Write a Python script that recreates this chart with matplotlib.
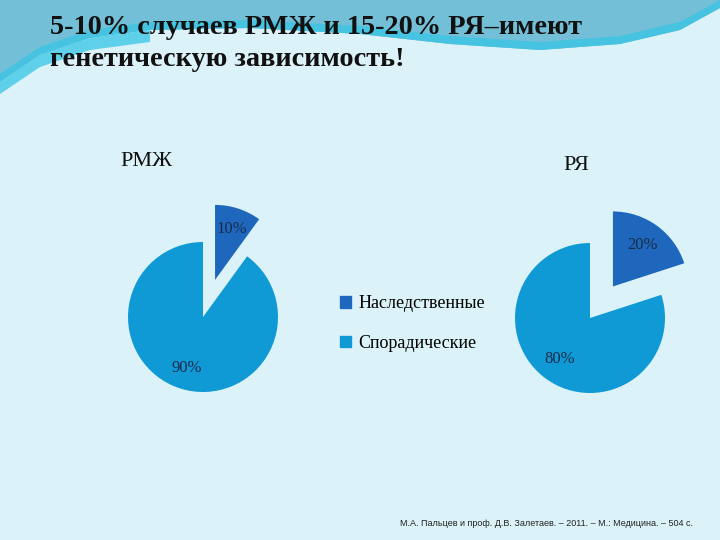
import numpy as np
import matplotlib.pyplot as plt
from matplotlib.patches import Polygon

# data
groups = ["РМЖ", "РЯ"]
categories = ["Наследственные", "Спорадические"]
rmzh_values = [10, 90]
rya_values = [20, 80]
colors = ["#1f67bd", "#0f9ad6"]

title = "5-10% случаев РМЖ и 15-20% РЯ–имеют\nгенетическую зависимость!"
source = "М.А. Пальцев и проф. Д.В. Залетаев. – 2011. – М.: Медицина. – 504 с."

bg = "#dbf3f8"
serif = ["Liberation Serif", "DejaVu Serif"]

fig = plt.figure(figsize=(7.2, 5.4), dpi=100)
fig.patch.set_facecolor(bg)

# background decoration (pixel coords)
deco = fig.add_axes([0, 0, 1, 1])
deco.set_xlim(0, 720)
deco.set_ylim(540, 0)
deco.axis("off")
xs = np.array([0, 40, 90, 150, 250, 360, 450, 540, 620, 680, 720])
edge = np.array([82, 55, 38, 30, 28, 34, 44, 50, 44, 30, 8])
deco.add_patch(Polygon(np.column_stack([np.r_[xs, 720, 0], np.r_[edge, 0, 0]]),
                       closed=True, facecolor="#74bfd8", edgecolor="none"))
deco.add_patch(Polygon(np.column_stack([np.r_[xs, xs[::-1]], np.r_[edge, edge[::-1] - 8]]),
                       closed=True, facecolor="#45c3e0", edgecolor="none"))
deco.add_patch(Polygon(np.column_stack([np.r_[xs[:4], xs[:4][::-1]],
                                        np.r_[edge[:4] + 12, edge[:4][::-1]]]),
                       closed=True, facecolor="#5fd0ea", edgecolor="none"))

fig.text(50 / 720, 1 - 15 / 540, title, ha="left", va="top", fontsize=20.3,
         fontweight="bold", family=serif, color="#111111", linespacing=1.35)

def pie_axes(cx, cy):
    # 75 px per unit radius, axes 300x300 px
    return fig.add_axes([(cx - 150) / 720, (540 - cy - 150) / 540, 300 / 720, 300 / 540])

for vals, name, (cx, cy), (tx, ty), pd in [
    (rmzh_values, groups[0], (203, 317), (146, 162), 0.72),
    (rya_values, groups[1], (590, 318), (576, 165), 0.68),
]:
    ax = pie_axes(cx, cy)
    wedges, _, autotexts = ax.pie(vals, colors=colors, startangle=90, counterclock=False,
                                  explode=[0.52, 0], radius=1, autopct="%1.0f%%",
                                  pctdistance=pd,
                                  textprops=dict(fontsize=12, color="#1b2c4a", family=serif))
    ax.set_xlim(-2, 2)
    ax.set_ylim(-2, 2)
    ax.set_aspect("equal")
    ax.axis("off")
    fig.text(tx / 720, 1 - ty / 540, name, ha="center", va="center",
             fontsize=16, family=serif, color="#111111")

# legend
leg_ax = fig.add_axes([0, 0, 1, 1], facecolor="none")
leg_ax.axis("off")
handles = [plt.Rectangle((0, 0), 1, 1, color=c) for c in colors]
leg = leg_ax.legend(handles, categories, loc="upper left", bbox_to_anchor=(324 / 720, 1 - 279 / 540),
                    frameon=False, prop=dict(family=serif, size=13), handlelength=0.6,
                    handleheight=0.6, handletextpad=0.4, labelspacing=1.25)

fig.text(400 / 720, 1 - 523 / 540, source, ha="left", va="center", fontsize=6.5,
         family=["Liberation Sans", "DejaVu Sans"], color="#222222")

fig.savefig("out.png", dpi=100, facecolor=bg)
